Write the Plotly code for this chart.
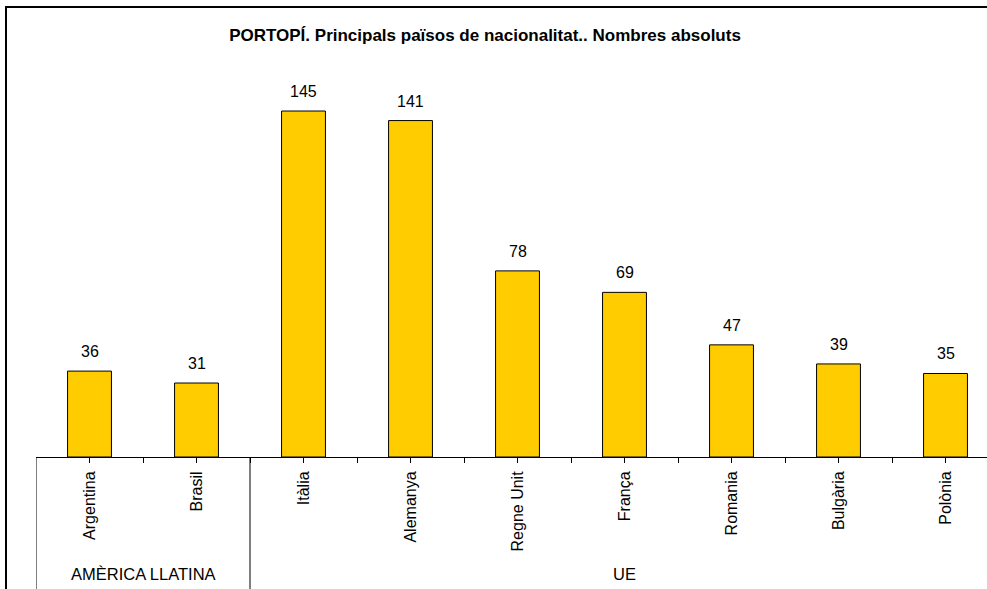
import plotly.graph_objects as go

countries = ["Argentina", "Brasil", "Itàlia", "Alemanya", "Regne Unit", "França", "Romania", "Bulgària", "Polònia"]
values = [36, 31, 145, 141, 78, 69, 47, 39, 35]
groups = ["AMÈRICA LLATINA", "UE"]
group_start = [0, 2]
group_end = [1, 8]

W_FIG, H_FIG = 987, 589
L, R, T, B = 36, 0, 75, 132
PW = W_FIG - L - R
PH = H_FIG - T - B
AXIS_Y = T + PH
CAT_PX = 107.0
FONT = "Liberation Sans, Arial"


def px_x(px):
    return (px - L) / PW


def px_y(py):
    return (AXIS_Y - py) / PH


xs = list(range(len(countries)))

fig = go.Figure()
fig.add_trace(go.Bar(
    x=xs, y=values, width=0.41,
    marker=dict(color="#FFCC00", line=dict(color="#000000", width=1)),
    hoverinfo="skip",
))

for x, v in zip(xs, values):
    fig.add_annotation(x=x, y=v, text=str(v), showarrow=False, yanchor="bottom",
                       yshift=9, font=dict(family=FONT, size=16, color="#000"))

# group labels and separators
for g, s, e in zip(groups, group_start, group_end):
    fig.add_annotation(x=(s + e) / 2, xref="x", y=px_y(574), yref="paper", text=g,
                       showarrow=False, yanchor="middle",
                       font=dict(family=FONT, size=16.5, color="#000"))
    fig.add_shape(type="line", xref="x", yref="paper", x0=s - 0.5, x1=s - 0.5,
                  y0=0, y1=px_y(620), line=dict(color="#000", width=1))

# outer border
fig.add_shape(type="rect", xref="paper", yref="paper", x0=px_x(6), x1=px_x(1010),
              y0=px_y(620), y1=px_y(7), line=dict(color="#000", width=2), layer="above")

fig.update_layout(
    width=W_FIG, height=H_FIG,
    margin=dict(l=L, r=R, t=T, b=B),
    paper_bgcolor="white", plot_bgcolor="white",
    showlegend=False,
    title=dict(text="<b>PORTOPÍ. Principals països de nacionalitat.. Nombres absoluts</b>",
               x=485 / W_FIG, xref="container", xanchor="center",
               y=1 - 35 / H_FIG, yref="container", yanchor="middle",
               font=dict(family=FONT, size=17, color="#000")),
    xaxis=dict(
        range=[-0.5, -0.5 + PW / CAT_PX],
        tickmode="array", tickvals=xs, ticktext=countries,
        tickangle=-90, ticks="outside", ticklen=5, tickcolor="#000",
        ticklabelstandoff=2,
        tickfont=dict(family=FONT, size=16, color="#000"),
        showline=True, linecolor="#000", linewidth=1,
        showgrid=False, zeroline=False,
        minor=dict(tickvals=[x + 0.5 for x in xs], ticks="outside", ticklen=5, tickcolor="#000"),
        fixedrange=True,
    ),
    yaxis=dict(range=[0, PH / 2.386], visible=False, showgrid=False, zeroline=False, fixedrange=True),
)

fig.write_html("out.html", config={"displayModeBar": False},
               post_script="document.body.style.margin='0px';document.body.style.overflow='hidden';")
